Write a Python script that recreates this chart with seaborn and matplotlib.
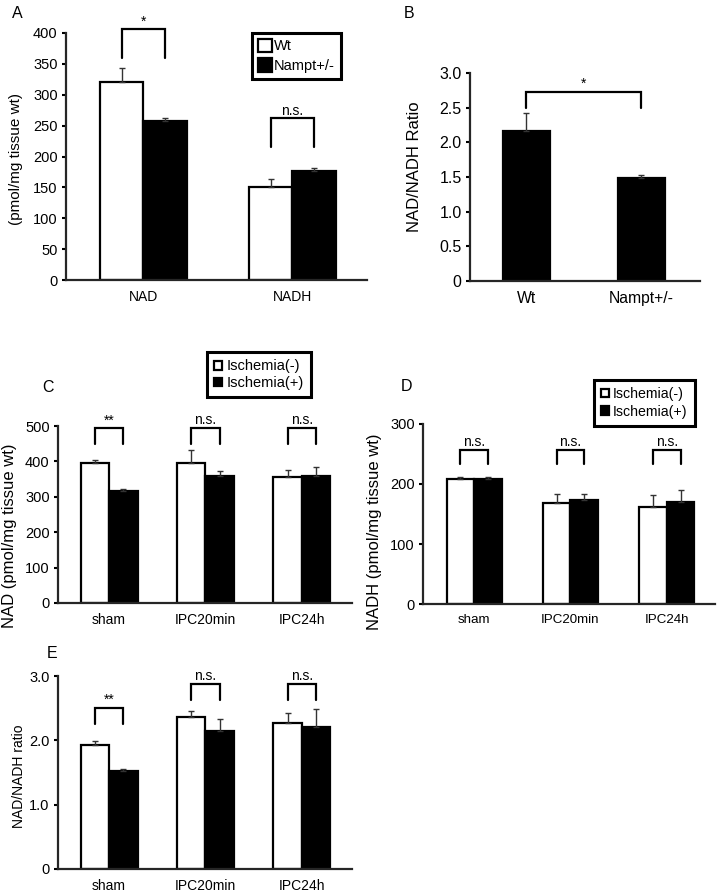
import numpy as np
import pandas as pd
import matplotlib
matplotlib.use("Agg")
import matplotlib.pyplot as plt
import seaborn as sns

# ---------------- data ----------------
# Panel A
a_categories = ["NAD", "NADH"]
a_groups = ["Wt", "Nampt+/-"]
a_wt = [320, 151]
a_wt_err = [23, 13]
a_nampt = [258, 176]
a_nampt_err = [4, 6]
a_sig_labels = ["*", "n.s."]
a_sig_top = [406, 262]
a_sig_bottom = [360, 215]
a_yticks = [0, 50, 100, 150, 200, 250, 300, 350, 400]

# Panel B
b_categories = ["Wt", "Nampt+/-"]
b_values = [2.16, 1.48]
b_err = [0.26, 0.05]
b_sig_label = "*"
b_sig_top = 2.73
b_sig_bottom = 2.50
b_yticks = [0, 0.5, 1.0, 1.5, 2.0, 2.5, 3.0]
b_yticklabels = ["0", "0.5", "1.0", "1.5", "2.0", "2.5", "3.0"]

# Panels C, D, E
cde_categories = ["sham", "IPC20min", "IPC24h"]
cde_groups = ["Ischemia(-)", "Ischemia(+)"]

c_minus = [396, 395, 357]
c_minus_err = [9, 36, 19]
c_plus = [315, 360, 358]
c_plus_err = [7, 14, 26]
c_sig_labels = ["**", "n.s.", "n.s."]
c_sig_top = [495, 495, 495]
c_sig_bottom = [449, 449, 449]
c_yticks = [0, 100, 200, 300, 400, 500]

d_minus = [208, 169, 162]
d_minus_err = [3, 15, 20]
d_plus = [209, 173, 170.5]
d_plus_err = [3, 10, 19]
d_sig_labels = ["n.s.", "n.s.", "n.s."]
d_sig_top = [257, 257, 257]
d_sig_bottom = [233, 233, 233]
d_yticks = [0, 100, 200, 300]

e_minus = [1.935, 2.365, 2.27]
e_minus_err = [0.06, 0.085, 0.15]
e_plus = [1.53, 2.14, 2.20]
e_plus_err = [0.03, 0.19, 0.29]
e_sig_labels = ["**", "n.s.", "n.s."]
e_sig_top = [2.51, 2.88, 2.88]
e_sig_bottom = [2.26, 2.63, 2.63]
e_yticks = [0, 1.0, 2.0, 3.0]
e_yticklabels = ["0", "1.0", "2.0", "3.0"]

# ---------------- style ----------------
sns.set_style("ticks")
plt.rcParams["font.family"] = ["Liberation Sans", "DejaVu Sans"]
plt.rcParams["axes.linewidth"] = 1.6
plt.rcParams["ytick.major.width"] = 1.5
plt.rcParams["ytick.major.size"] = 3
plt.rcParams["text.color"] = "black"
plt.rcParams["axes.labelcolor"] = "black"
plt.rcParams["xtick.color"] = "black"
plt.rcParams["ytick.color"] = "black"

W, H = 720, 892
fig = plt.figure(figsize=(W / 100, H / 100), dpi=100)


def rect(l, t, r, b):
    return [l / W, 1 - b / H, (r - l) / W, (b - t) / H]


def style_axes(ax, ylim, yticks, yticklabels, ytfs, xtfs):
    sns.despine(ax=ax)
    ax.set_ylim(*ylim)
    ax.set_yticks(yticks)
    ax.set_yticklabels(yticklabels if yticklabels is not None else [str(t) for t in yticks], fontsize=ytfs)
    ax.tick_params(axis="x", length=0, pad=7, labelsize=xtfs)
    ax.tick_params(axis="y", pad=3)
    ax.set_xlabel("")


def add_errors(ax, container, errs):
    xs = [b.get_x() + b.get_width() / 2 for b in container]
    ys = [b.get_height() for b in container]
    ax.errorbar(xs, ys, yerr=[np.zeros(len(errs)), errs], fmt="none",
                ecolor="#333333", elinewidth=1.0, capsize=2.2, capthick=1.0, zorder=5)


def bracket(ax, x1, x2, top, bottom, label, fs):
    ax.plot([x1, x1, x2, x2], [bottom, top, top, bottom], color="black", lw=1.6,
            clip_on=False, solid_joinstyle="miter", zorder=6)
    ax.annotate(label, xy=((x1 + x2) / 2, top), xytext=(0, 2.5), textcoords="offset points",
                ha="center", va="baseline", fontsize=fs, annotation_clip=False)


def grouped(ax, cats, groups, v1, v2, e1, e2, width):
    df = pd.DataFrame({"cat": cats * 2,
                       "group": [groups[0]] * len(cats) + [groups[1]] * len(cats),
                       "value": list(v1) + list(v2)})
    sns.barplot(data=df, x="cat", y="value", hue="group", order=cats, hue_order=groups,
                palette=["white", "black"], saturation=1, edgecolor="black", linewidth=1.6,
                width=width, gap=0, errorbar=None, ax=ax)
    add_errors(ax, ax.containers[0], e1)
    add_errors(ax, ax.containers[1], e2)
    return ax.containers[0], ax.containers[1]


def centers(container):
    return [b.get_x() + b.get_width() / 2 for b in container]


# ---------------- Panel A ----------------
axA = fig.add_axes(rect(66, 33, 367, 280))
c0, c1 = grouped(axA, a_categories, a_groups, a_wt, a_nampt, a_wt_err, a_nampt_err, 0.58)
style_axes(axA, (0, 400), a_yticks, None, 10.5, 10)
axA.set_xlim(-0.52, 1.5)
for i, lab in enumerate(a_sig_labels):
    bracket(axA, centers(c0)[i], centers(c1)[i], a_sig_top[i], a_sig_bottom[i], lab, 10)
axA.set_ylabel("(pmol/mg tissue wt)", fontsize=11, va="center")
axA.yaxis.set_label_coords(-0.166, 0.49)
h, l = axA.get_legend_handles_labels()
axA.legend(h, l, loc="upper left", bbox_to_anchor=(252 / W, 1 - 33 / H), bbox_transform=fig.transFigure,
           frameon=True, fancybox=False, edgecolor="black", framealpha=1, fontsize=10.5,
           handlelength=1.0, handleheight=1.0, handletextpad=0.1, labelspacing=0.35,
           borderpad=0.4, borderaxespad=0).get_frame().set_linewidth(2.2)

# ---------------- Panel B ----------------
axB = fig.add_axes(rect(470, 73, 700, 281))
sns.barplot(x=b_categories, y=b_values, color="black", saturation=1, edgecolor="black",
            linewidth=1.6, width=0.41, errorbar=None, ax=axB)
add_errors(axB, axB.containers[0], b_err)
style_axes(axB, (0, 3.0), b_yticks, b_yticklabels, 11.5, 11.3)
axB.set_xlim(-0.49, 1.51)
bc = centers(axB.containers[0])
bracket(axB, bc[0], bc[1], b_sig_top, b_sig_bottom, b_sig_label, 10)
axB.set_ylabel("NAD/NADH Ratio", fontsize=12, va="center")
axB.yaxis.set_label_coords(-0.243, 0.55)

# ---------------- Panel C ----------------
axC = fig.add_axes(rect(58, 426, 352, 603))
c0, c1 = grouped(axC, cde_categories, cde_groups, c_minus, c_plus, c_minus_err, c_plus_err, 0.59)
style_axes(axC, (0, 500), c_yticks, None, 10.5, 10)
axC.set_xlim(-0.53, 2.52)
for i, lab in enumerate(c_sig_labels):
    bracket(axC, centers(c0)[i], centers(c1)[i], c_sig_top[i], c_sig_bottom[i], lab, 10)
axC.set_ylabel("NAD (pmol/mg tissue wt)", fontsize=12, va="center")
axC.yaxis.set_label_coords(-0.165, 0.38)
h, l = axC.get_legend_handles_labels()
axC.legend(h, l, loc="upper left", bbox_to_anchor=(207 / W, 1 - 352 / H), bbox_transform=fig.transFigure,
           frameon=True, fancybox=False, edgecolor="black", framealpha=1, fontsize=10.5,
           handlelength=0.55, handleheight=0.55, handletextpad=0.3, labelspacing=0.2,
           borderpad=0.5, borderaxespad=0).get_frame().set_linewidth(2.2)

# ---------------- Panel D ----------------
axD = fig.add_axes(rect(423, 424, 715, 604))
c0, c1 = grouped(axD, cde_categories, cde_groups, d_minus, d_plus, d_minus_err, d_plus_err, 0.57)
style_axes(axD, (0, 300), d_yticks, None, 10.5, 9.6)
axD.set_xlim(-0.53, 2.5)
for i, lab in enumerate(d_sig_labels):
    bracket(axD, centers(c0)[i], centers(c1)[i], d_sig_top[i], d_sig_bottom[i], lab, 10)
axD.set_ylabel("NADH (pmol/mg tissue wt)", fontsize=12, va="center")
axD.yaxis.set_label_coords(-0.166, 0.40)
h, l = axD.get_legend_handles_labels()
axD.legend(h, l, loc="upper left", bbox_to_anchor=(594 / W, 1 - 380 / H), bbox_transform=fig.transFigure,
           frameon=True, fancybox=False, edgecolor="black", framealpha=1, fontsize=10.2,
           handlelength=0.55, handleheight=0.55, handletextpad=0.3, labelspacing=0.25,
           borderpad=0.5, borderaxespad=0).get_frame().set_linewidth(2.2)

# ---------------- Panel E ----------------
axE = fig.add_axes(rect(58, 676, 352, 869))
c0, c1 = grouped(axE, cde_categories, cde_groups, e_minus, e_plus, e_minus_err, e_plus_err, 0.59)
style_axes(axE, (0, 3.0), e_yticks, e_yticklabels, 10.5, 10)
axE.set_xlim(-0.53, 2.52)
for i, lab in enumerate(e_sig_labels):
    bracket(axE, centers(c0)[i], centers(c1)[i], e_sig_top[i], e_sig_bottom[i], lab, 10)
axE.set_ylabel("NAD/NADH ratio", fontsize=10, va="center")
axE.yaxis.set_label_coords(-0.134, 0.48)
if axE.get_legend() is not None:
    axE.get_legend().remove()

# ---------------- panel letters ----------------
for letter, (x, y) in zip(["A", "B", "C", "D", "E"],
                          [(17.5, 13.5), (409, 14), (48, 387), (406.7, 386.5), (52.5, 653)]):
    fig.text(x / W, 1 - y / H, letter, fontsize=11.5, ha="center", va="center")

fig.savefig("out.png", dpi=100)
